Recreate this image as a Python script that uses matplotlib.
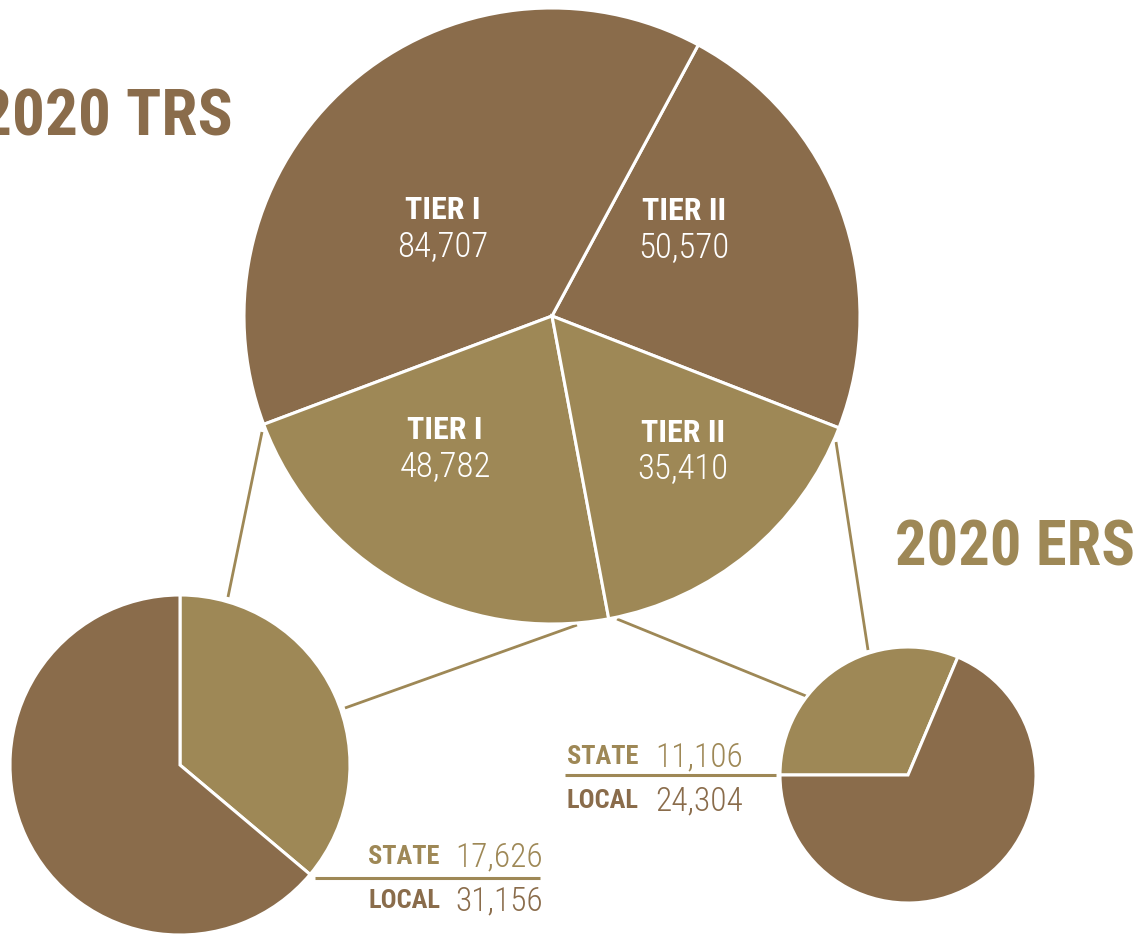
import matplotlib
matplotlib.use("Agg")
import matplotlib.pyplot as plt
from matplotlib import font_manager

# membership counts by plan and tier
TRS_LABELS = ["TIER II", "TIER I", "TIER I", "TIER II"]
TRS_VALUES = [50570, 84707, 48782, 35410]

TRS_SPLIT_LABELS = ["STATE", "LOCAL"]
TRS_TIER1_SPLIT = [17626, 31156]
ERS_TIER2_SPLIT = [11106, 24304]

DARK = "#8a6c4b"
LIGHT = "#9e8856"

W, H = 1142, 936


def pick_font(candidates):
    for name in candidates:
        try:
            font_manager.findfont(font_manager.FontProperties(family=name),
                                  fallback_to_default=False)
            return name
        except ValueError:
            continue
    return "DejaVu Sans"


FONT = pick_font(["Roboto Condensed", "Liberation Sans Narrow", "DejaVu Sans Condensed",
                  "Liberation Sans"])


def up(y):
    # layout positions are written top-down, axes run bottom-up
    return H - y


fig = plt.figure(figsize=(W / 100, H / 100), dpi=100)
ax = fig.add_axes([0, 0, 1, 1])

edge = dict(edgecolor="white", linewidth=2.2)

# connector lines from the split slices to their breakdown pies
line_kw = dict(color=LIGHT, lw=2.0, solid_capstyle="butt", zorder=0)
ax.plot([262, 228], [up(432), up(597)], **line_kw)
ax.plot([577, 345], [up(625), up(708)], **line_kw)
ax.plot([836, 868], [up(442), up(650)], **line_kw)
ax.plot([617, 806], [up(619), up(696)], **line_kw)

# main TRS pie
big_c = (552, up(316))
ax.pie(TRS_VALUES, colors=[DARK, DARK, LIGHT, LIGHT], startangle=-21.3,
       center=big_c, radius=308, wedgeprops=edge, frame=True)

# Tier I split (left) and ERS Tier II split (right)
ax.pie(TRS_TIER1_SPLIT, colors=[LIGHT, DARK], startangle=90, counterclock=False,
       center=(180, up(765)), radius=170, wedgeprops=edge, frame=True)
ax.pie(ERS_TIER2_SPLIT, colors=[LIGHT, DARK], startangle=180, counterclock=False,
       center=(908, up(775)), radius=128, wedgeprops=edge, frame=True)

ax.set_xlim(0, W)
ax.set_ylim(0, H)
ax.set_aspect("equal")
ax.axis("off")

# slice labels inside the main pie
slice_pos = [(684, 211), (443, 210), (445, 430), (683, 433)]
for (x, y), lab, val in zip(slice_pos, TRS_LABELS, TRS_VALUES):
    ax.text(x, up(y), lab, ha="center", va="center", color="white",
            fontsize=23, fontweight="bold", family=FONT)
    ax.text(x, up(y + 36), f"{val:,}", ha="center", va="center", color="white",
            fontsize=25, fontweight="light", family=FONT)

# titles
ax.text(233, up(118), "2020 TRS", ha="right", va="center", color=DARK,
        fontsize=47, fontweight="bold", family=FONT)
ax.text(1135, up(548), "2020 ERS", ha="right", va="center", color=LIGHT,
        fontsize=45, fontweight="bold", family=FONT)


def split_legend(x_lab, x_val, y_top, y_line, y_bot, x0, x1, values):
    ax.plot([x0, x1], [up(y_line), up(y_line)], color=LIGHT, lw=2.2,
            solid_capstyle="butt")
    for (y, lab, val, col) in [(y_top, TRS_SPLIT_LABELS[0], values[0], LIGHT),
                               (y_bot, TRS_SPLIT_LABELS[1], values[1], DARK)]:
        ax.text(x_lab, up(y), lab, ha="left", va="center", color=col,
                fontsize=19, fontweight="bold", family=FONT)
        ax.text(x_val, up(y), f"{val:,}", ha="left", va="center", color=col,
                fontsize=24, fontweight="light", family=FONT)


split_legend(368, 455, 857, 878, 901, 315, 540, TRS_TIER1_SPLIT)
split_legend(567, 655, 757, 775, 801, 565, 776, ERS_TIER2_SPLIT)

fig.savefig("out.png", dpi=100)
